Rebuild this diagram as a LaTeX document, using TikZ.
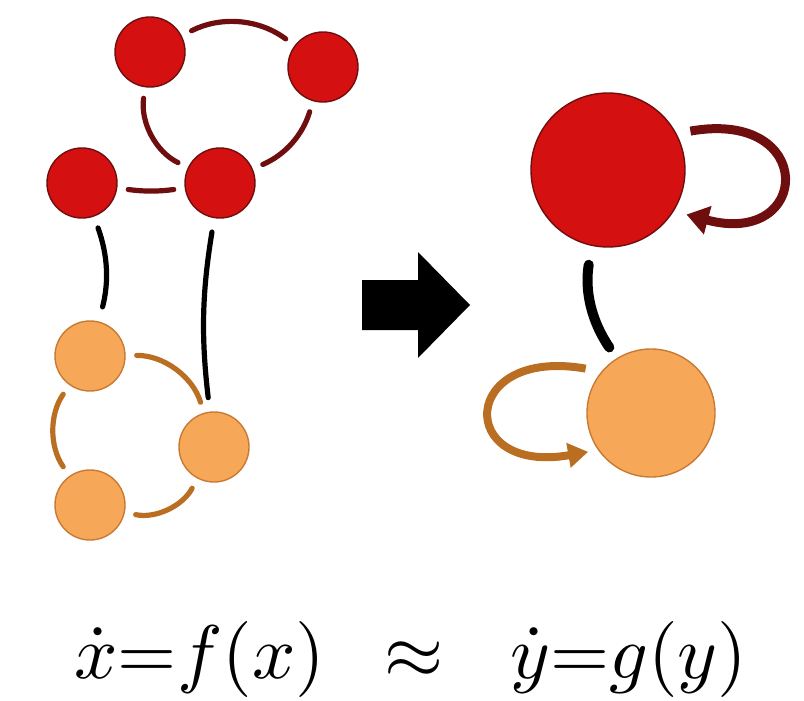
\documentclass[tikz,border=0pt]{standalone}
\usepackage{graphicx}
\usetikzlibrary{arrows.meta}
\definecolor{redfill}{RGB}{212,16,16}
\definecolor{redline}{RGB}{110,14,14}
\definecolor{orangefill}{RGB}{246,168,88}
\definecolor{orangeborder}{RGB}{200,122,52}
\definecolor{orangeline}{RGB}{186,110,34}
\tikzset{
  rnode/.style={circle, fill=redfill, draw=redline, line width=0.7pt, minimum size=35pt, inner sep=0pt},
  onode/.style={circle, fill=orangefill, draw=orangeborder, line width=0.7pt, minimum size=35pt, inner sep=0pt},
  redge/.style={draw=redline, line width=2.6pt, line cap=round, shorten <=5.5pt, shorten >=5.5pt},
  oedge/.style={draw=orangeline, line width=2.6pt, line cap=round, shorten <=5.5pt, shorten >=5.5pt},
  link/.style={draw=black, line width=2.6pt, line cap=round},
  rloop/.style={draw=redline, line width=4.5pt, -{Triangle[length=11pt,width=14pt]}},
  oloop/.style={draw=orangeline, line width=4pt, -{Triangle[length=10pt,width=12pt]}}
}

\begin{document}
\begin{tikzpicture}[x=0.5pt, y=-0.5pt]
    \useasboundingbox (0,0) rectangle (804,701);

    \node[rnode] (r1) at (150,52) {};
    \node[rnode] (r2) at (323,67) {};
    \node[rnode] (r3) at (82,183) {};
    \node[rnode] (r4) at (220,183) {};
    \node[onode] (o1) at (90,356) {};
    \node[onode] (o2) at (214,447) {};
    \node[onode] (o3) at (90,505) {};

    \draw[redge] (r1) to[bend left=32] (r2);
    \draw[redge] (r2) to[bend left=25] (r4);
    \draw[redge] (r4) to[bend left=36] (r1);
    \draw[redge] (r3) to[bend right=8] (r4);
    \draw[oedge] (o1) to[bend left=37] (o2);
    \draw[oedge] (o2) to[bend left=37] (o3);
    \draw[oedge] (o3) to[bend left=35] (o1);
    \draw[link, shorten <=6pt, shorten >=7.5pt] (r3) to[bend left=17] (o1);
    \draw[link, shorten <=7pt, shorten >=7pt] (r4) to[bend right=8] (o2);

    \fill (362,280) -- (418,280) -- (418,252) -- (470,305) -- (418,358) -- (418,330) -- (362,330) -- cycle;

    \node[rnode, minimum size=77pt] (big) at (608,170) {};
    \node[onode, minimum size=64pt] (small) at (651,413) {};

    \draw[link, line width=5pt, shorten <=9.5pt, shorten >=6.5pt] (big) to[bend right=22] (small);
    \draw[rloop, shorten <=7pt, shorten >=6.5pt] (big.28) to[out=10, in=-15, looseness=4.7] (big.-32);
    \draw[oloop, shorten <=8pt, shorten >=5pt] (small.140) to[out=170, in=190, looseness=4.7] (small.-145);

    \node[anchor=base] (eq) at (411,678)
      {\scalebox{3.8}{$\dot{x}{=}f(x)\hspace{0.78em}{\approx}\hspace{0.88em}\dot{y}{=}g(y)$}};
\end{tikzpicture}
\end{document}
